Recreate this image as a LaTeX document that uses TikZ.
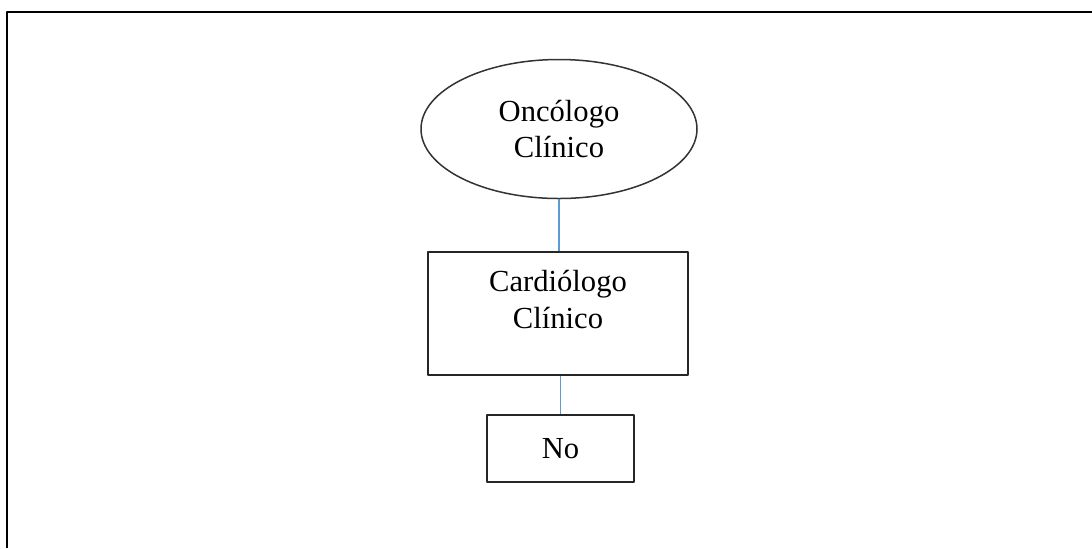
\documentclass[tikz,border=0pt]{standalone}
\usepackage{fontspec}
\setmainfont{Liberation Serif}
\usetikzlibrary{shapes.geometric}
\definecolor{linkblue}{RGB}{91,155,213}
\tikzset{
  txt/.style={font=\fontsize{15.3}{18.3}\selectfont,align=center},
  caja/.style={draw=black!85,line width=0.9pt,rectangle,inner sep=0pt},
  enlace/.style={draw=linkblue,line width=0.65pt}
}
\begin{document}
\begin{tikzpicture}[x=0.5pt,y=-0.5pt,line join=round]
  \useasboundingbox (0,0) rectangle (1092,548);
  % marco
  \draw[line width=1pt] (7,548) -- (7,12) -- (1092,12);
  % nodos
  \node[draw=black!80,line width=0.75pt,ellipse,minimum width=138pt,minimum height=69.5pt,inner sep=0pt,txt] (onco) at (559,129) {Oncólogo\\Clínico};
  \node[caja,minimum width=130pt,minimum height=61.5pt] (card) at (558,313.5) {};
  \node[txt,anchor=north,inner sep=0pt] (cardtxt) at ([yshift=-9.5pt]card.north) {Cardiólogo\\Clínico};
  \node[caja,minimum width=73.5pt,minimum height=33.5pt,txt] (no) at (560.5,448.5) {No};
  % enlaces
  \draw[enlace] (onco.south) -- (onco.south |- card.north);
  \draw[enlace] (no.north |- card.south) -- (no.north);
\end{tikzpicture}
\end{document}
